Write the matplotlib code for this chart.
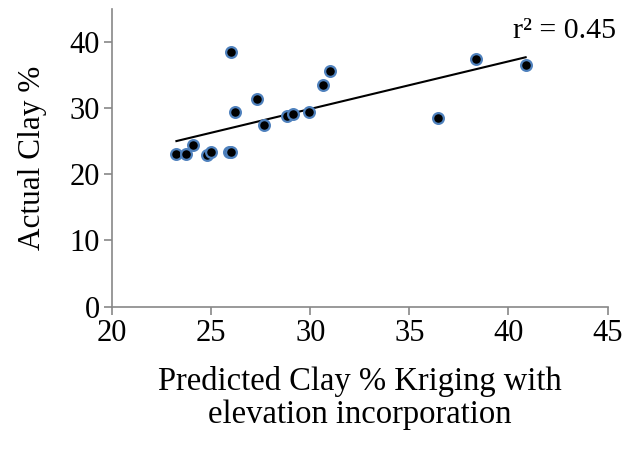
import matplotlib
matplotlib.use("Agg")
import matplotlib.pyplot as plt
import numpy as np

# predicted (kriging w/ elevation) vs actual clay %
predicted = [23.25, 23.73, 24.07, 24.78, 25.0, 25.88, 26.02, 25.98, 26.22, 27.34,
             27.67, 28.84, 29.15, 29.96, 30.67, 31.01, 36.46, 38.39, 40.87]
actual = [23.05, 23.05, 24.45, 22.94, 23.4, 23.4, 23.4, 38.5, 29.4, 31.4,
          27.4, 28.7, 29.1, 29.4, 33.5, 35.5, 28.5, 37.4, 36.5]
r2_label = "r\u00b2 = 0.45"

plt.rcParams['font.family'] = ['Liberation Serif', 'DejaVu Serif']

W, H = 627, 468
fig = plt.figure(figsize=(W / 100, H / 100), dpi=100)
# plot area in pixels: x 112..607, y 8.6..306.5
ax = fig.add_axes([112 / W, 1 - 306.5 / H, 495.5 / W, 298 / H])

x = np.array(predicted)
y = np.array(actual)
ax.scatter(x, y, s=60, c='black', edgecolors='#4f81bd', linewidths=1.6, zorder=3)

# linear trendline over the data range
m, b = np.polyfit(x, y, 1)
xs = np.array([x.min(), x.max()])
ax.plot(xs, m * xs + b, color='black', lw=1.5, zorder=2)

ax.text(42.85, 40.6, r2_label, fontsize=21.5, ha='center', va='baseline')

ax.set_xlim(20, 45)
ax.set_ylim(0, 45)
ax.set_xticks([20, 25, 30, 35, 40, 45])
ax.set_yticks([0, 10, 20, 30, 40])

for side in ['top', 'right']:
    ax.spines[side].set_visible(False)
for side in ['left', 'bottom']:
    ax.spines[side].set_color('#878787')
    ax.spines[side].set_linewidth(1.2)
ax.tick_params(axis='both', colors='#878787', labelcolor='black', labelsize=22,
               width=1.2, length=5.8, pad=3)

ax.set_xlabel("Predicted Clay % Kriging with\nelevation incorporation", fontsize=23.5,
              labelpad=13, linespacing=1.1)
ax.set_ylabel("Actual Clay %", fontsize=22.5)
ax.yaxis.set_label_coords(-0.132, 0.5)

fig.savefig("out.png", dpi=100)
